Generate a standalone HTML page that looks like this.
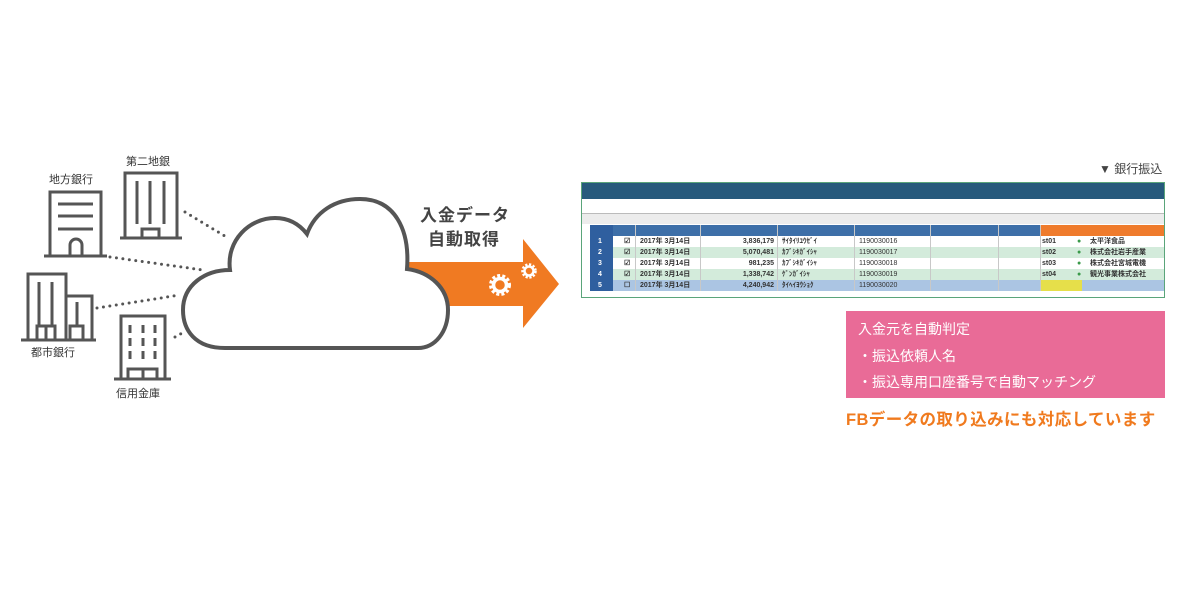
<!DOCTYPE html>
<html><head><meta charset="utf-8"><style>
body{margin:0;background:#fff;width:1200px;height:592px;position:relative;overflow:hidden;font-family:"Liberation Sans","Noto Sans CJK JP",sans-serif}
.a{position:absolute;white-space:nowrap}
.c{position:absolute;font-size:7px;line-height:11px;color:#333;font-weight:bold}
.v{position:absolute;top:42px;width:1px;height:66px;background:#c8c8c8}
</style></head><body>
<svg width="1200" height="592" style="position:absolute;left:0;top:0">
<g fill="none" stroke="#555" stroke-width="3">
<polyline points="50,256 50,192 101,192 101,256"/>
<line x1="44" y1="256" x2="107" y2="256"/>
<line x1="58" y1="204" x2="93" y2="204"/><line x1="58" y1="216" x2="93" y2="216"/><line x1="58" y1="229" x2="93" y2="229"/>
<path d="M70,256 V245 A6,6 0 0 1 82,245 V256"/>
<polyline points="125,238 125,173 177,173 177,238"/>
<line x1="120" y1="238" x2="182" y2="238"/>
<line x1="137" y1="181" x2="137" y2="224"/><line x1="150" y1="181" x2="150" y2="224"/><line x1="164" y1="181" x2="164" y2="224"/>
<polyline points="142,238 142,229 159,229 159,238"/>
<polyline points="28,340 28,274 66,274 66,340"/>
<polyline points="66,296 92,296 92,340"/>
<line x1="21" y1="340" x2="96" y2="340"/>
<line x1="39" y1="282" x2="39" y2="325"/><line x1="52" y1="282" x2="52" y2="325"/><line x1="77" y1="302" x2="77" y2="325"/>
<polyline points="37,340 37,326 55,326 55,340"/><line x1="46" y1="326" x2="46" y2="340"/>
<polyline points="70,340 70,326 83,326 83,340"/>
<polyline points="121,379 121,316 165,316 165,379"/>
<line x1="114" y1="379" x2="171" y2="379"/>
<polyline points="128,379 128,369 157,369 157,379"/><line x1="143" y1="369" x2="143" y2="379"/>
</g>
<g stroke="#555" stroke-width="3">
<line x1="130" y1="325" x2="130" y2="333"/><line x1="143" y1="325" x2="143" y2="333"/><line x1="155" y1="325" x2="155" y2="333"/>
<line x1="130" y1="338" x2="130" y2="346"/><line x1="143" y1="338" x2="143" y2="346"/><line x1="155" y1="338" x2="155" y2="346"/>
<line x1="130" y1="351" x2="130" y2="359"/><line x1="143" y1="351" x2="143" y2="359"/><line x1="155" y1="351" x2="155" y2="359"/>
</g>
<g stroke="#555" stroke-width="3" stroke-linecap="round" stroke-dasharray="0 6.5">
<line x1="185" y1="212" x2="228" y2="238"/>
<line x1="110" y1="257" x2="203" y2="270"/>
<line x1="97" y1="308" x2="180" y2="295"/>
<line x1="175" y1="337" x2="184" y2="332"/>
</g>
<polygon points="405,262 523,262 523,239 559,284 523,328 523,306 405,306" fill="#f07a22"/>
<path d="M225,348 C195,348 183,330 183,310 C183,285 205,270 230,270 C226,240 250,218 275,218 C290,218 300,225 307,234 C315,212 335,199 360,199 C395,199 410,230 407,269 C430,272 448,288 448,310 C448,332 435,348 418,348 Z" fill="#fff" stroke="#555" stroke-width="4"/>
<g fill="none" stroke="#fff">
<circle cx="500" cy="285" r="6.5" stroke-width="3.5"/>
<circle cx="500" cy="285" r="9.5" stroke-width="3" stroke-dasharray="3 2.2"/>
<circle cx="529" cy="271" r="4.5" stroke-width="2.5"/>
<circle cx="529" cy="271" r="6.5" stroke-width="2.5" stroke-dasharray="2.2 1.6"/>
</g>
</svg>
<div class="a" style="left:49px;top:171px;font-size:11px;color:#333">地方銀行</div>
<div class="a" style="left:126px;top:153px;font-size:11px;color:#333">第二地銀</div>
<div class="a" style="left:31px;top:344px;font-size:11px;color:#333">都市銀行</div>
<div class="a" style="left:116px;top:385px;font-size:11px;color:#333">信用金庫</div>
<div class="a" style="left:420px;top:201px;font-size:17px;color:#444;font-weight:bold;letter-spacing:1px">入金データ</div>
<div class="a" style="left:428px;top:225px;font-size:17px;color:#444;font-weight:bold;letter-spacing:1px">自動取得</div>
<div class="a" style="left:1099px;top:160px;font-size:12px;color:#444">▼ 銀行振込</div>
<div class="a" style="left:581px;top:182px;width:582px;height:114px;border:1px solid #5aa57a;background:#fff">
 <div class="a" style="left:0;top:0;width:582px;height:16px;background:#275a7c"></div>
 <div class="a" style="left:0;top:30px;width:582px;height:10px;background:#ececec;border-top:1px solid #bbb"></div>
 <div class="a" style="left:8px;top:42px;width:574px;height:11px;background:#3d6fa8"></div>
 <div class="a" style="left:458px;top:42px;width:124px;height:11px;background:#ef7b2c"></div>
 <div class="a" style="left:8px;top:53px;width:574px;height:11px;background:#fff"></div>
 <div class="a" style="left:8px;top:64px;width:574px;height:11px;background:#d3ebdb"></div>
 <div class="a" style="left:8px;top:75px;width:574px;height:11px;background:#fff"></div>
 <div class="a" style="left:8px;top:86px;width:574px;height:11px;background:#d3ebdb"></div>
 <div class="a" style="left:8px;top:97px;width:574px;height:11px;background:#abc5e3"></div>
 <div class="a" style="left:8px;top:42px;width:23px;height:66px;background:#2f5f9f"></div>
 <div class="a" style="left:458px;top:97px;width:42px;height:11px;background:#e6df4a"></div>
 <div class="v" style="left:53px"></div><div class="v" style="left:118px"></div><div class="v" style="left:195px"></div><div class="v" style="left:272px"></div><div class="v" style="left:348px"></div><div class="v" style="left:416px"></div><div class="v" style="left:458px"></div>
 <div class="c" style="left:16px;top:53px;color:#fff">1<br>2<br>3<br>4<br>5</div>
 <div class="c" style="left:42px;top:53px">☑<br>☑<br>☑<br>☑<br>☐</div>
 <div class="c" style="left:58px;top:53px">2017年 3月14日<br>2017年 3月14日<br>2017年 3月14日<br>2017年 3月14日<br>2017年 3月14日</div>
 <div class="c" style="left:140px;top:53px;text-align:right;width:52px">3,836,179<br>5,070,481<br>981,235<br>1,338,742<br>4,240,942</div>
 <div class="c" style="left:200px;top:53px">ｻｲﾀｲﾘﾕｳｾﾞｲ<br>ｶﾌﾞｼｷｶﾞｲｼｬ<br>ｶﾌﾞｼｷｶﾞｲｼｬ<br>ｹﾞﾝｶﾞｲｼｬ<br>ﾀｲﾍｲﾖｳｼｮｸ</div>
 <div class="c" style="left:277px;top:53px;font-weight:normal">1190030016<br>1190030017<br>1190030018<br>1190030019<br>1190030020</div>
 <div class="c" style="left:460px;top:53px">st01<br>st02<br>st03<br>st04</div>
 <div class="c" style="left:495px;top:53px;color:#3a9a4a">●<br>●<br>●<br>●</div>
 <div class="c" style="left:508px;top:53px">太平洋食品<br>株式会社岩手産業<br>株式会社宮城電機<br>観光事業株式会社</div>
</div>
<div class="a" style="left:846px;top:311px;width:319px;height:87px;background:#e96b97"></div>
<div class="a" style="left:858px;top:316px;font-size:14px;color:#fff;line-height:26.5px">入金元を自動判定<br>・振込依頼人名<br>・振込専用口座番号で自動マッチング</div>
<div class="a" style="left:846px;top:406px;font-size:16.5px;color:#f07a1e;font-weight:bold;letter-spacing:0.4px">FBデータの取り込みにも対応しています</div>
</body></html>
